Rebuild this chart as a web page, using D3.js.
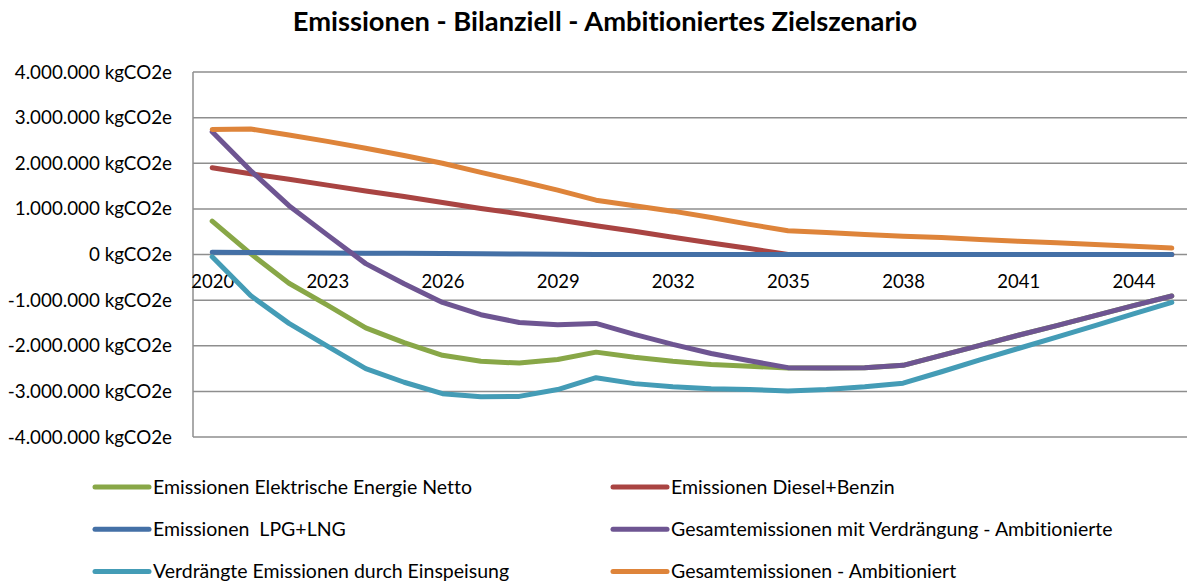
<!DOCTYPE html>
<html>
<head>
<meta charset="utf-8">
<script src="https://cdn.jsdelivr.net/npm/d3@7"></script>
<style>
  body { margin: 0; background: #fff; }
  text { font-family: Lato, "Open Sans", sans-serif; fill: #000; white-space: pre; font-variant-ligatures: none; }
</style>
</head>
<body>
<script>
const years = d3.range(2020, 2046).map(String);
const yTicks = [4000000, 3000000, 2000000, 1000000, 0, -1000000, -2000000, -3000000, -4000000];
const xTickLabels = ["2020", "2023", "2026", "2029", "2032", "2035", "2038", "2041", "2044"];

const seriesNames = [
  "Emissionen Elektrische Energie Netto",
  "Emissionen Diesel+Benzin",
  "Emissionen  LPG+LNG",
  "Gesamtemissionen mit Verdrängung - Ambitionierte",
  "Verdrängte Emissionen durch Einspeisung",
  "Gesamtemissionen - Ambitioniert"
];
const seriesColors = ["#88a747", "#a94442", "#4470a6", "#6e5592", "#449cb6", "#de843a"];

// values in million kgCO2e
const elektrisch = [0.73, 0.02, -0.63, -1.11, -1.61, -1.93, -2.21, -2.34, -2.38, -2.30, -2.14, -2.25, -2.34, -2.41, -2.45, -2.49,
  -2.49, -2.48, -2.43, -2.21, -1.99, -1.77, -1.56, -1.34, -1.12, -0.91];
const diesel = [1.90, 1.77, 1.65, 1.52, 1.39, 1.27, 1.14, 1.01, 0.89, 0.76, 0.63, 0.51, 0.38, 0.25, 0.13, 0,
  0, 0, 0, 0, 0, 0, 0, 0, 0, 0];
const lpg = [0.05, 0.045, 0.04, 0.035, 0.03, 0.025, 0.02, 0.015, 0.01, 0.005, 0, 0, 0, 0, 0, 0,
  0, 0, 0, 0, 0, 0, 0, 0, 0, 0];
const gesamtVerdraengung = [2.69, 1.84, 1.07, 0.43, -0.20, -0.64, -1.05, -1.32, -1.49, -1.54, -1.51, -1.75, -1.97, -2.17, -2.33, -2.48,
  -2.49, -2.48, -2.43, -2.21, -1.99, -1.77, -1.56, -1.34, -1.12, -0.91];
const verdraengt = [-0.05, -0.90, -1.51, -2.01, -2.50, -2.80, -3.05, -3.12, -3.11, -2.96, -2.70, -2.83, -2.90, -2.94, -2.96, -2.99,
  -2.96, -2.90, -2.82, -2.57, -2.31, -2.06, -1.81, -1.56, -1.30, -1.05];
const gesamt = [2.74, 2.75, 2.62, 2.48, 2.33, 2.17, 2.00, 1.80, 1.61, 1.41, 1.19, 1.07, 0.95, 0.81, 0.66, 0.52,
  0.48, 0.44, 0.40, 0.37, 0.33, 0.29, 0.26, 0.22, 0.18, 0.14];

const seriesValues = [elektrisch, diesel, lpg, gesamtVerdraengung, verdraengt, gesamt];

const W = 1187, H = 584;
const plot = {left: 193, right: 1191, top: 72, bottom: 437};

const svg = d3.select("body").append("svg")
  .attr("width", W)
  .attr("height", H);

// Title
svg.append("text")
  .attr("x", 605)
  .attr("y", 31)
  .attr("text-anchor", "middle")
  .style("font-size", "27.3px")
  .style("font-weight", "bold")
  .text("Emissionen - Bilanziell - Ambitioniertes Zielszenario");

const x = d3.scalePoint()
  .domain(years)
  .range([plot.left, plot.right])
  .padding(0.5);

const y = d3.scaleLinear()
  .domain([-4000000, 4000000])
  .range([plot.bottom, plot.top]);

const fmt = v => d3.format(",")(v).replace(/,/g, ".").replace("−", "-") + " kgCO2e";

// Gridlines + y labels
const yAxis = svg.append("g")
  .attr("transform", `translate(${plot.left},0)`)
  .call(d3.axisLeft(y).tickValues(yTicks).tickSize(0).tickPadding(21).tickFormat(fmt));
yAxis.select(".domain").remove();
yAxis.selectAll("text")
  .style("font-size", "18.8px")
  .style("font-family", "Lato, sans-serif");

svg.append("g")
  .selectAll("line")
  .data(yTicks)
  .join("line")
  .attr("x1", plot.left)
  .attr("x2", W)
  .attr("y1", d => y(d))
  .attr("y2", d => y(d))
  .attr("stroke", "#8e8e8e")
  .attr("stroke-width", 1.5);

// Left axis line
svg.append("line")
  .attr("x1", plot.left).attr("x2", plot.left)
  .attr("y1", plot.top).attr("y2", plot.bottom)
  .attr("stroke", "#8e8e8e")
  .attr("stroke-width", 1.5);

// X axis labels sit below the zero line
const xAxis = svg.append("g")
  .attr("transform", `translate(0,${y(0)})`)
  .call(d3.axisBottom(x).tickValues(xTickLabels).tickSize(0).tickPadding(20));
xAxis.select(".domain").remove();
xAxis.selectAll("text")
  .style("font-size", "18.5px")
  .style("font-family", "Lato, sans-serif");

// Lines
const line = d3.line()
  .x((d, i) => x(years[i]))
  .y(d => y(d * 1000000));

svg.append("g")
  .selectAll("path")
  .data(seriesValues)
  .join("path")
  .attr("fill", "none")
  .attr("stroke", (d, i) => seriesColors[i])
  .attr("stroke-width", 5)
  .attr("stroke-linejoin", "round")
  .attr("stroke-linecap", "round")
  .attr("d", line);

// Legend (two columns, row-major)
const legend = svg.append("g");
const legItems = legend.selectAll("g")
  .data(seriesNames)
  .join("g")
  .attr("transform", (d, i) => `translate(${i % 2 === 0 ? 95 : 613},${487 + Math.floor(i / 2) * 42.3})`);

legItems.append("line")
  .attr("x1", 0).attr("x2", 54)
  .attr("stroke", (d, i) => seriesColors[i])
  .attr("stroke-width", 5)
  .attr("stroke-linecap", "round");

legItems.append("text")
  .attr("x", 58)
  .attr("dy", "0.35em")
  .style("font-size", "19.5px")
  .text(d => d);
</script>
</body>
</html>
